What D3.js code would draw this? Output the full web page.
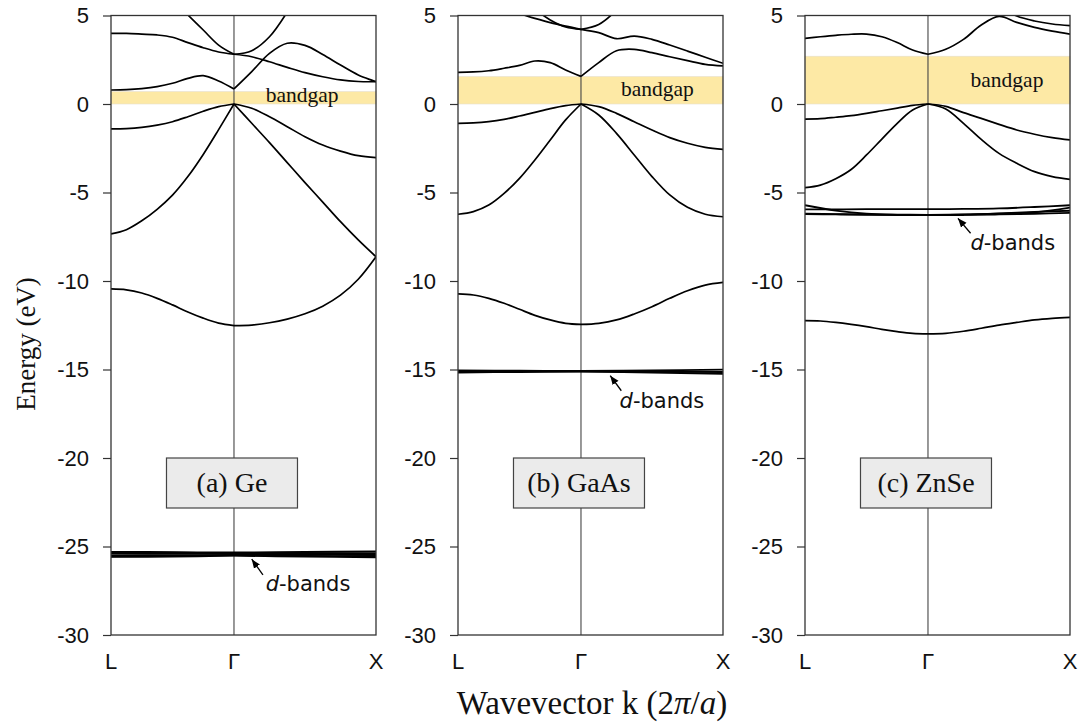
<!DOCTYPE html>
<html><head><meta charset="utf-8">
<script src="https://cdn.jsdelivr.net/npm/d3@7"></script>
<style>body{margin:0;background:#fff}</style>
</head><body><svg id="c" width="1087" height="727"></svg>
<script>
// ---------- data ----------
const kLabels = ["L", "Γ", "X"];
const kDist = [0, 0.866, 1.866];          // path distance of L, Γ, X (units 2π/a)
const yTicks = [5, 0, -5, -10, -15, -20, -25, -30];
const panelNames = ["(a) Ge", "(b) GaAs", "(c) ZnSe"];
const gapTops = [0.70, 1.55, 2.70];       // eV (gap from 0 to value)
// band values sampled evenly along L→Γ→X (17 points: 9 on L-Γ, 8 on Γ-X); null = off the chart
const geBands = [
  [-10.45,-10.5,-10.68,-10.98,-11.35,-11.75,-12.1,-12.38,-12.52,-12.49,-12.36,-12.15,-11.85,-11.42,-10.8,-9.9,-8.63],
  [-7.34,-7.1,-6.6,-5.95,-5.15,-4.1,-2.85,-1.45,0,-1.09,-2.18,-3.31,-4.44,-5.54,-6.65,-7.68,-8.63],
  [-1.41,-1.39,-1.32,-1.19,-1.0,-0.72,-0.41,-0.15,0,-0.24,-0.72,-1.28,-1.85,-2.32,-2.66,-2.92,-3.03],
  [0.79,0.81,0.87,0.98,1.17,1.45,1.6,1.3,0.85,1.83,2.86,3.43,3.31,2.8,2.2,1.64,1.26],
  [3.99,3.99,3.95,3.9,3.77,3.47,3.18,2.94,2.81,2.67,2.39,2.07,1.77,1.54,1.36,1.27,1.26],
  [null,null,null,null,5.9,5.03,4.18,3.33,2.81,3.01,3.8,5.2,null,null,null,null,null]
];
const gaasBands = [
  [-10.73,-10.79,-10.98,-11.26,-11.6,-11.94,-12.2,-12.39,-12.45,-12.39,-12.2,-11.86,-11.45,-10.98,-10.55,-10.23,-10.08],
  [-6.23,-6.08,-5.71,-5.05,-4.2,-3.16,-2.03,-0.9,0,-0.62,-1.66,-2.88,-4.1,-5.14,-5.84,-6.23,-6.37],
  [-1.09,-1.07,-1.0,-0.87,-0.68,-0.47,-0.26,-0.09,0,-0.15,-0.53,-1.0,-1.47,-1.9,-2.22,-2.45,-2.56],
  [1.79,1.81,1.88,2.02,2.18,2.43,2.34,1.92,1.56,2.34,3.01,3.09,2.9,2.67,2.45,2.24,2.15],
  [null,null,null,null,5.1,4.84,4.6,4.4,4.22,4.03,3.69,3.84,3.65,3.33,2.99,2.64,2.3],
  [null,null,null,null,null,5.35,4.75,4.35,4.22,4.49,5.3,null,null,null,null,null,null]
];
const znseBands = [
  [-12.24,-12.26,-12.34,-12.45,-12.58,-12.73,-12.86,-12.96,-12.99,-12.96,-12.84,-12.67,-12.49,-12.34,-12.2,-12.11,-12.05],
  [-4.73,-4.58,-4.22,-3.7,-2.88,-1.98,-1.09,-0.34,0,-0.28,-1.09,-2.0,-2.79,-3.35,-3.82,-4.1,-4.26],
  [-0.85,-0.83,-0.75,-0.66,-0.53,-0.38,-0.23,-0.08,0,-0.13,-0.49,-0.81,-1.15,-1.47,-1.71,-1.9,-2.03],
  [3.71,3.8,3.88,3.94,3.95,3.8,3.47,3.05,2.81,3.09,3.65,4.46,4.95,4.61,4.33,4.12,3.95],
  [null,null,null,null,null,null,null,null,null,null,null,null,5.5,4.97,4.69,4.52,4.43]
];
// d-bands sampled evenly along L→Γ→X (5 or 9 points)
const geDBands = [
  [-25.30,-25.32,-25.34,-25.31,-25.28],
  [-25.34,-25.35,-25.37,-25.37,-25.38],
  [-25.40,-25.40,-25.40,-25.42,-25.44],
  [-25.50,-25.49,-25.47,-25.47,-25.48],
  [-25.55,-25.53,-25.50,-25.53,-25.55],
  [-25.59,-25.57,-25.52,-25.57,-25.62]
];
const gaasDBands = [
  [-15.05,-15.07,-15.08,-15.05,-15.01],
  [-15.12,-15.11,-15.10,-15.12,-15.14],
  [-15.17,-15.14,-15.12,-15.17,-15.24]
];
const znseDBands = [
  [-5.72,-6.02,-6.2,-6.26,-6.28,-6.27,-6.24,-6.2,-6.15],
  [-5.95,-5.95,-5.94,-5.94,-5.94,-5.93,-5.9,-5.82,-5.72],
  [-6.2,-6.22,-6.24,-6.25,-6.26,-6.24,-6.18,-6.1,-6.03],
  [-6.22,-6.24,-6.26,-6.27,-6.28,-6.25,-6.2,-6.12,-5.85]
];
// annotation anchors in (path param 0..2, eV)
const gapLabelPos = [[1.223, 0.11], [1.282, 0.45], [1.30, 0.98]];
const dArrowTip  = [[1.125, -25.72], [1.206, -15.35], [1.211, -6.46]];
const dArrowTail = [[1.204, -26.6], [1.284, -16.2], [1.30, -7.3]];
const dLabelPos  = [[1.223, -27.5], [1.272, -17.2], [1.299, -8.25]];

const allBands = [geBands, gaasBands, znseBands];
const allDBands = [geDBands, gaasDBands, znseDBands];

// ---------- layout ----------
const svg = d3.select("#c");
const lefts = [111, 458, 805], W = 265, topY = 15.5, botY = 635;
const gFrac = kDist[1] / kDist[2];

const defs = svg.append("defs");
defs.append("marker").attr("id", "ah").attr("viewBox", "0 0 10 10")
  .attr("refX", 10).attr("refY", 5).attr("markerWidth", 9).attr("markerHeight", 9)
  .attr("markerUnits", "userSpaceOnUse").attr("orient", "auto")
  .append("path").attr("d", "M0,1 L10,5 L0,9 Z").attr("fill", "#000");

const y = d3.scaleLinear().domain([-30, 5]).range([botY, topY]);

lefts.forEach((L, i) => {
  const x = d3.scaleLinear().domain([0, 1, 2]).range([L, L + W * gFrac, L + W]);
  const g = svg.append("g");
  const cid = "clip" + i;
  defs.append("clipPath").attr("id", cid).append("rect")
    .attr("x", L).attr("y", topY).attr("width", W).attr("height", botY - topY);

  // bandgap
  g.append("rect").attr("x", x(0)).attr("width", W)
    .attr("y", y(gapTops[i])).attr("height", y(0) - y(gapTops[i]))
    .attr("fill", "#fde9a5").attr("stroke", "#e6e0cc").attr("stroke-width", 0.6);

  // Γ line
  g.append("line").attr("x1", x(1)).attr("x2", x(1)).attr("y1", topY).attr("y2", botY)
    .attr("stroke", "#444").attr("stroke-width", 1.1);

  const line = d3.line().defined(d => d[1] != null)
    .x(d => x(d[0])).y(d => y(d[1])).curve(d3.curveCatmullRom.alpha(0.5));
  const bg = g.append("g").attr("clip-path", `url(#${cid})`);
  const drawBand = (vals, sw) => {
    const n = vals.length, mid = (n - 1) / 2;
    const pts = vals.map((v, j) => [2 * j / (n - 1), v]);
    [pts.slice(0, mid + 1), pts.slice(mid)].forEach(seg => {
      bg.append("path").attr("d", line(seg)).attr("fill", "none")
        .attr("stroke", "#000").attr("stroke-width", sw).attr("stroke-linejoin", "round");
    });
  };
  allBands[i].forEach(b => drawBand(b, 1.7));
  allDBands[i].forEach(b => drawBand(b, 1.8));

  // frame
  g.append("rect").attr("x", L).attr("y", topY).attr("width", W).attr("height", botY - topY)
    .attr("fill", "none").attr("stroke", "#333").attr("stroke-width", 1.3);

  // y ticks
  const ya = g.append("g").attr("transform", `translate(${L},0)`)
    .call(d3.axisLeft(y).tickValues(yTicks).tickSize(8).tickPadding(14).tickFormat(d3.format("d")));
  ya.select(".domain").remove();
  ya.selectAll("line").attr("stroke", "#333").attr("stroke-width", 1.2);
  ya.selectAll("text").attr("font-family", "Liberation Sans, Arial, sans-serif")
    .attr("font-size", 22).attr("fill", "#111").text(d => String(d));

  // x labels
  kLabels.forEach((lab, j) => {
    g.append("text").attr("x", x(j)).attr("y", 669).attr("text-anchor", "middle")
      .attr("font-family", "Liberation Sans, Arial, sans-serif").attr("font-size", 22)
      .attr("fill", "#111").text(lab);
  });

  // bandgap label
  g.append("text").attr("x", x(gapLabelPos[i][0])).attr("y", y(gapLabelPos[i][1]))
    .attr("font-family", "Liberation Serif, Times New Roman, serif").attr("font-size", 21.5)
    .attr("fill", "#111").text("bandgap");

  // d-bands annotation
  g.append("line").attr("x1", x(dArrowTail[i][0])).attr("y1", y(dArrowTail[i][1]))
    .attr("x2", x(dArrowTip[i][0])).attr("y2", y(dArrowTip[i][1]))
    .attr("stroke", "#000").attr("stroke-width", 1.3).attr("marker-end", "url(#ah)");
  const dt = g.append("text").attr("x", x(dLabelPos[i][0])).attr("y", y(dLabelPos[i][1]))
    .attr("font-family", "DejaVu Sans, sans-serif").attr("font-size", 21).attr("fill", "#111");
  dt.append("tspan").attr("font-style", "italic").text("d");
  dt.append("tspan").text("-bands");

  // panel name box
  const bx = x(1) - 2, byTop = y(-20);
  g.append("rect").attr("x", bx - 65.5).attr("y", byTop).attr("width", 131).attr("height", 50)
    .attr("fill", "#ebebeb").attr("stroke", "#444").attr("stroke-width", 1.2);
  g.append("text").attr("x", bx).attr("y", byTop + 34).attr("text-anchor", "middle")
    .attr("font-family", "Liberation Serif, Times New Roman, serif").attr("font-size", 28)
    .attr("fill", "#111").text(panelNames[i]);
});

// axis titles
svg.append("text").attr("transform", "translate(35,344) rotate(-90)").attr("text-anchor", "middle")
  .attr("font-family", "Liberation Serif, Times New Roman, serif").attr("font-size", 27)
  .attr("fill", "#111").text("Energy (eV)");
const xt = svg.append("text").attr("x", 592).attr("y", 714).attr("text-anchor", "middle")
  .attr("font-family", "Liberation Serif, Times New Roman, serif").attr("font-size", 33).attr("fill", "#111");
xt.append("tspan").text("Wavevector k (2");
xt.append("tspan").attr("font-style", "italic").text("π");
xt.append("tspan").text("/");
xt.append("tspan").attr("font-style", "italic").text("a");
xt.append("tspan").text(")");
</script></body></html>
